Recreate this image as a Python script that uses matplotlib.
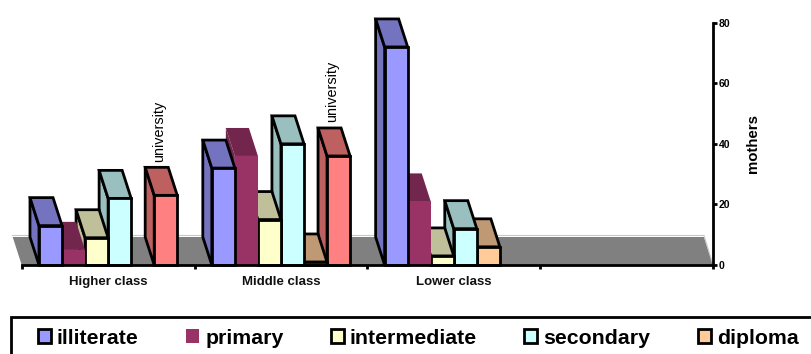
import matplotlib
matplotlib.use('Agg')
import matplotlib.pyplot as plt
from matplotlib.patches import Patch, Polygon, Rectangle

plt.rcParams['font.family'] = ['Liberation Sans', 'DejaVu Sans']

#------------------------------------------------------------------------------
# Data
#------------------------------------------------------------------------------

classes = ['Higher class', 'Middle class', 'Lower class', '']
series_names = ['illiterate', 'primary', 'intermediate', 'secondary', 'diploma', 'university']

illiterate = [13, 32, 72]
primary = [5, 36, 21]
intermediate = [9, 15, 3]
secondary = [22, 40, 12]
diploma = [0, 1, 6]
university = [23, 36, 0]
y_ticks = [0, 20, 40, 60, 80]

#------------------------------------------------------------------------------
# Styles
#------------------------------------------------------------------------------

all_values = [illiterate, primary, intermediate, secondary, diploma, university]
front_colors = ['#9999FF', '#993366', '#FFFFCC', '#CCFFFF', '#FFCC99', '#FF8080']
depth_colors = ['#7373BF', '#73264D', '#BFBF99', '#99BFBF', '#BF9973', '#BF6060']
edge_colors = ['black', 'none', 'black', 'black', 'black', 'black']

W, H = 811, 354
ax_left, ax_right, ax_top, ax_bottom = 21.7, 713.0, 22.7, 265.0
n_series = len(series_names)
bar_w = 1 / 7.5
bar_start = 0.1
# 3D depth of the fake perspective, in data units
depth_x = 9.0 / ((ax_right - ax_left) / 4)
depth_y = 28.0 / ((ax_bottom - ax_top) / 80)
lw = 2.0

#------------------------------------------------------------------------------
# Figure
#------------------------------------------------------------------------------

fig = plt.figure(figsize=(W / 100, H / 100), dpi=100)
ax = fig.add_axes([ax_left / W, 1 - ax_bottom / H, (ax_right - ax_left) / W, (ax_bottom - ax_top) / H])
ax.set_xlim(0, 4)
ax.set_ylim(0, 80)
ax.patch.set_visible(False)

# Floor
floor = Polygon([(0, 0), (-depth_x, depth_y), (4 - depth_x, depth_y), (4, 0)],
                closed=True, facecolor='#808080', edgecolor='none', zorder=1, clip_on=False)
ax.add_patch(floor)
ax.plot([-depth_x, 4 - depth_x, 4], [depth_y + 0.5, depth_y + 0.5, 0], color='#C8C8C8',
        linewidth=0.8, zorder=1, clip_on=False)

# Bars, painted from right to left so neighbours hide each other correctly
z = 2
for c in range(len(classes) - 2, -1, -1):
    for s in range(n_series - 1, -1, -1):
        v = all_values[s][c]
        if v == 0:
            continue
        x0 = c + bar_start + s * bar_w
        x1 = x0 + bar_w
        ec = edge_colors[s]
        side = [(x0, 0), (x0 - depth_x, depth_y), (x0 - depth_x, v + depth_y), (x0, v)]
        top = [(x0, v), (x0 - depth_x, v + depth_y), (x1 - depth_x, v + depth_y), (x1, v)]
        ax.add_patch(Polygon(side, closed=True, facecolor=depth_colors[s], edgecolor=ec,
                             linewidth=lw, zorder=z, clip_on=False, joinstyle='miter'))
        ax.add_patch(Polygon(top, closed=True, facecolor=depth_colors[s], edgecolor=ec,
                             linewidth=lw, zorder=z, clip_on=False, joinstyle='miter'))
        ax.bar(x0, v, width=bar_w, align='edge', color=front_colors[s], edgecolor=ec,
               linewidth=lw, zorder=z, clip_on=False)
        z += 1

# Labels on the university bars
for c in range(2):
    x0 = c + bar_start + 5 * bar_w
    ax.annotate('university', (x0 + bar_w / 2 - depth_x, university[c] + depth_y),
                xytext=(1.5, 4), textcoords='offset points', rotation=90, ha='center', va='bottom',
                fontsize=10.4, color='black', zorder=z, annotation_clip=False)

#------------------------------------------------------------------------------
# Axes
#------------------------------------------------------------------------------

for name in ['top', 'left']:
    ax.spines[name].set_visible(False)
ax.spines['bottom'].set_linewidth(lw)
ax.spines['right'].set_linewidth(lw)
ax.spines['bottom'].set_zorder(z + 1)
ax.spines['right'].set_zorder(z + 1)

ax.yaxis.tick_right()
ax.set_yticks(y_ticks)
ax.tick_params(axis='y', length=3, width=lw, pad=1, labelsize=7.5)
for t in ax.get_yticklabels():
    t.set_fontweight('bold')

ax.set_xticks(range(len(classes) + 1))
ax.set_xticklabels([])
ax.tick_params(axis='x', length=3, width=lw)
for i, name in enumerate(classes):
    ax.text(i + 0.5, -5.5, name, ha='center', va='center', fontsize=9.5, fontweight='bold',
            color='#111111')

ax.text(753 / W, 1 - 143.5 / H, 'mothers', transform=fig.transFigure, rotation=90,
        ha='center', va='center', fontsize=10.8, fontweight='bold')

#------------------------------------------------------------------------------
# Legend
#------------------------------------------------------------------------------

fig.add_artist(Rectangle((11 / W, -0.05), 1.0, 1 - 317 / H + 0.05, transform=fig.transFigure,
                         facecolor='white', edgecolor='black', linewidth=lw))

handles = [Patch(facecolor=front_colors[s], edgecolor=edge_colors[s], linewidth=lw)
           for s in range(n_series - 1)]
leg = fig.legend(handles, series_names[:-1], ncol=5, frameon=False, loc='center left',
                 bbox_to_anchor=(37.5 / W, 1 - 338 / H), borderaxespad=0, borderpad=0,
                 prop={'family': ['Liberation Sans'], 'weight': 'bold', 'size': 15.3},
                 handlelength=0.62, handleheight=0.62, handletextpad=0.29, columnspacing=2.22)

fig.savefig('out.png', dpi=100)
